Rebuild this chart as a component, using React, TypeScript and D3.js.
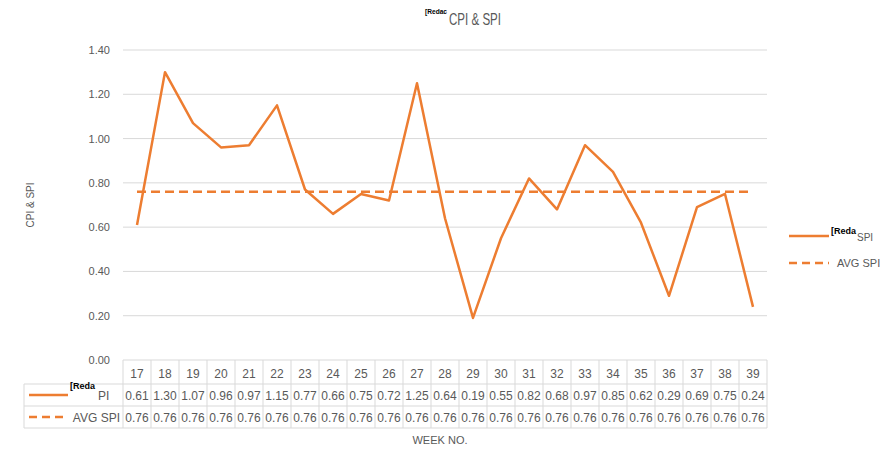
import React from "react";
import * as d3 from "d3";

const weeks = ["17","18","19","20","21","22","23","24","25","26","27","28","29","30","31","32","33","34","35","36","37","38","39"];
const spi = [0.61,1.30,1.07,0.96,0.97,1.15,0.77,0.66,0.75,0.72,1.25,0.64,0.19,0.55,0.82,0.68,0.97,0.85,0.62,0.29,0.69,0.75,0.24];
const avgSpi = [0.76,0.76,0.76,0.76,0.76,0.76,0.76,0.76,0.76,0.76,0.76,0.76,0.76,0.76,0.76,0.76,0.76,0.76,0.76,0.76,0.76,0.76,0.76];
const yTicks = [0,0.2,0.4,0.6,0.8,1.0,1.2,1.4];

const W = 895, H = 449;
const plotL = 123, plotR = 767, plotT = 50, plotB = 360;
const ORANGE = "#ED7D31";
const GRID = "#D9D9D9";
const TXT = "#595959";
const FONT = "'Liberation Sans', Arial, sans-serif";

export default function App() {
  const x = d3.scaleBand<string>().domain(weeks).range([plotL, plotR]).padding(0);
  const y = d3.scaleLinear().domain([0, 1.4]).range([plotB, plotT]);
  const cx = (w: string) => (x(w) as number) + x.bandwidth() / 2;
  const line = d3.line<number>().x((_, i) => cx(weeks[i])).y((d) => y(d));

  const rowT = [362, 384, 406, 428];
  const tableL = 24;

  return (
    <svg width={W} height={H} style={{ position: "absolute", left: 0, top: 0, background: "#fff" }}>
      <rect width={W} height={H} fill="#fff" />
      {/* Title */}
      <text x={425} y={14} fontFamily={FONT} fontSize={7.5} fontWeight="bold" fill="#000" textLength={22} lengthAdjust="spacingAndGlyphs">[Redac</text>
      <text x={449} y={25} fontFamily={FONT} fontSize={17} fill={TXT} textLength={52} lengthAdjust="spacingAndGlyphs">CPI &amp; SPI</text>

      {/* gridlines */}
      {yTicks.map((t) => (
        <g key={t}>
          {t > 0 && <line x1={plotL} x2={plotR} y1={y(t)} y2={y(t)} stroke={GRID} strokeWidth={1} />}
          <text x={110} y={y(t) + 4} textAnchor="end" fontFamily={FONT} fontSize={11} fill={TXT}>{t.toFixed(2)}</text>
        </g>
      ))}

      {/* y axis title */}
      <text transform={`translate(34,${205}) rotate(-90)`} textAnchor="middle" fontFamily={FONT} fontSize={10} fill={TXT}>CPI &amp; SPI</text>

      {/* series */}
      <path d={line(avgSpi) || ""} fill="none" stroke={ORANGE} strokeWidth={2.5} strokeDasharray="9,5" />
      <path d={line(spi) || ""} fill="none" stroke={ORANGE} strokeWidth={2.5} strokeLinejoin="round" />

      {/* data table */}
      <g stroke={GRID} strokeWidth={1}>
        <line x1={plotL} x2={plotR} y1={plotB} y2={plotB} />
        <line x1={tableL} x2={plotR} y1={rowT[1]} y2={rowT[1]} />
        <line x1={tableL} x2={plotR} y1={rowT[2]} y2={rowT[2]} />
        <line x1={tableL} x2={plotR} y1={rowT[3]} y2={rowT[3]} />
        <line x1={tableL} x2={tableL} y1={rowT[1]} y2={rowT[3]} />
        {weeks.map((w) => (
          <line key={w} x1={x(w) as number} x2={x(w) as number} y1={plotB} y2={rowT[3]} />
        ))}
        <line x1={plotR} x2={plotR} y1={plotB} y2={rowT[3]} />
      </g>
      {weeks.map((w, i) => (
        <g key={"c" + w} fontFamily={FONT} fontSize={12} fill={TXT} textAnchor="middle">
          <text x={cx(w)} y={378}>{w}</text>
          <text x={cx(w)} y={400}>{spi[i].toFixed(2)}</text>
          <text x={cx(w)} y={422}>{avgSpi[i].toFixed(2)}</text>
        </g>
      ))}
      {/* table legend keys */}
      <line x1={29} x2={68} y1={395} y2={395} stroke={ORANGE} strokeWidth={2.5} />
      <text x={70} y={389} fontFamily={FONT} fontSize={9} fontWeight="bold" fill="#000">[Reda</text>
      <text x={98} y={400} fontFamily={FONT} fontSize={12} fill={TXT}>PI</text>
      <line x1={29} x2={68} y1={417} y2={417} stroke={ORANGE} strokeWidth={2.5} strokeDasharray="8,5" />
      <text x={120} y={422} textAnchor="end" fontFamily={FONT} fontSize={12} fill={TXT}>AVG SPI</text>

      {/* x axis title */}
      <text x={440} y={444} textAnchor="middle" fontFamily={FONT} fontSize={11} fill={TXT}>WEEK NO.</text>

      {/* right legend */}
      <line x1={789} x2={829} y1={236} y2={236} stroke={ORANGE} strokeWidth={2.5} />
      <text x={831} y={234} fontFamily={FONT} fontSize={9} fontWeight="bold" fill="#000">[Reda</text>
      <text x={857} y={241} fontFamily={FONT} fontSize={10} fill={TXT}>SPI</text>
      <line x1={789} x2={829} y1={263} y2={263} stroke={ORANGE} strokeWidth={2.5} strokeDasharray="8,5" />
      <text x={837} y={267} fontFamily={FONT} fontSize={11} fill={TXT}>AVG SPI</text>
    </svg>
  );
}
